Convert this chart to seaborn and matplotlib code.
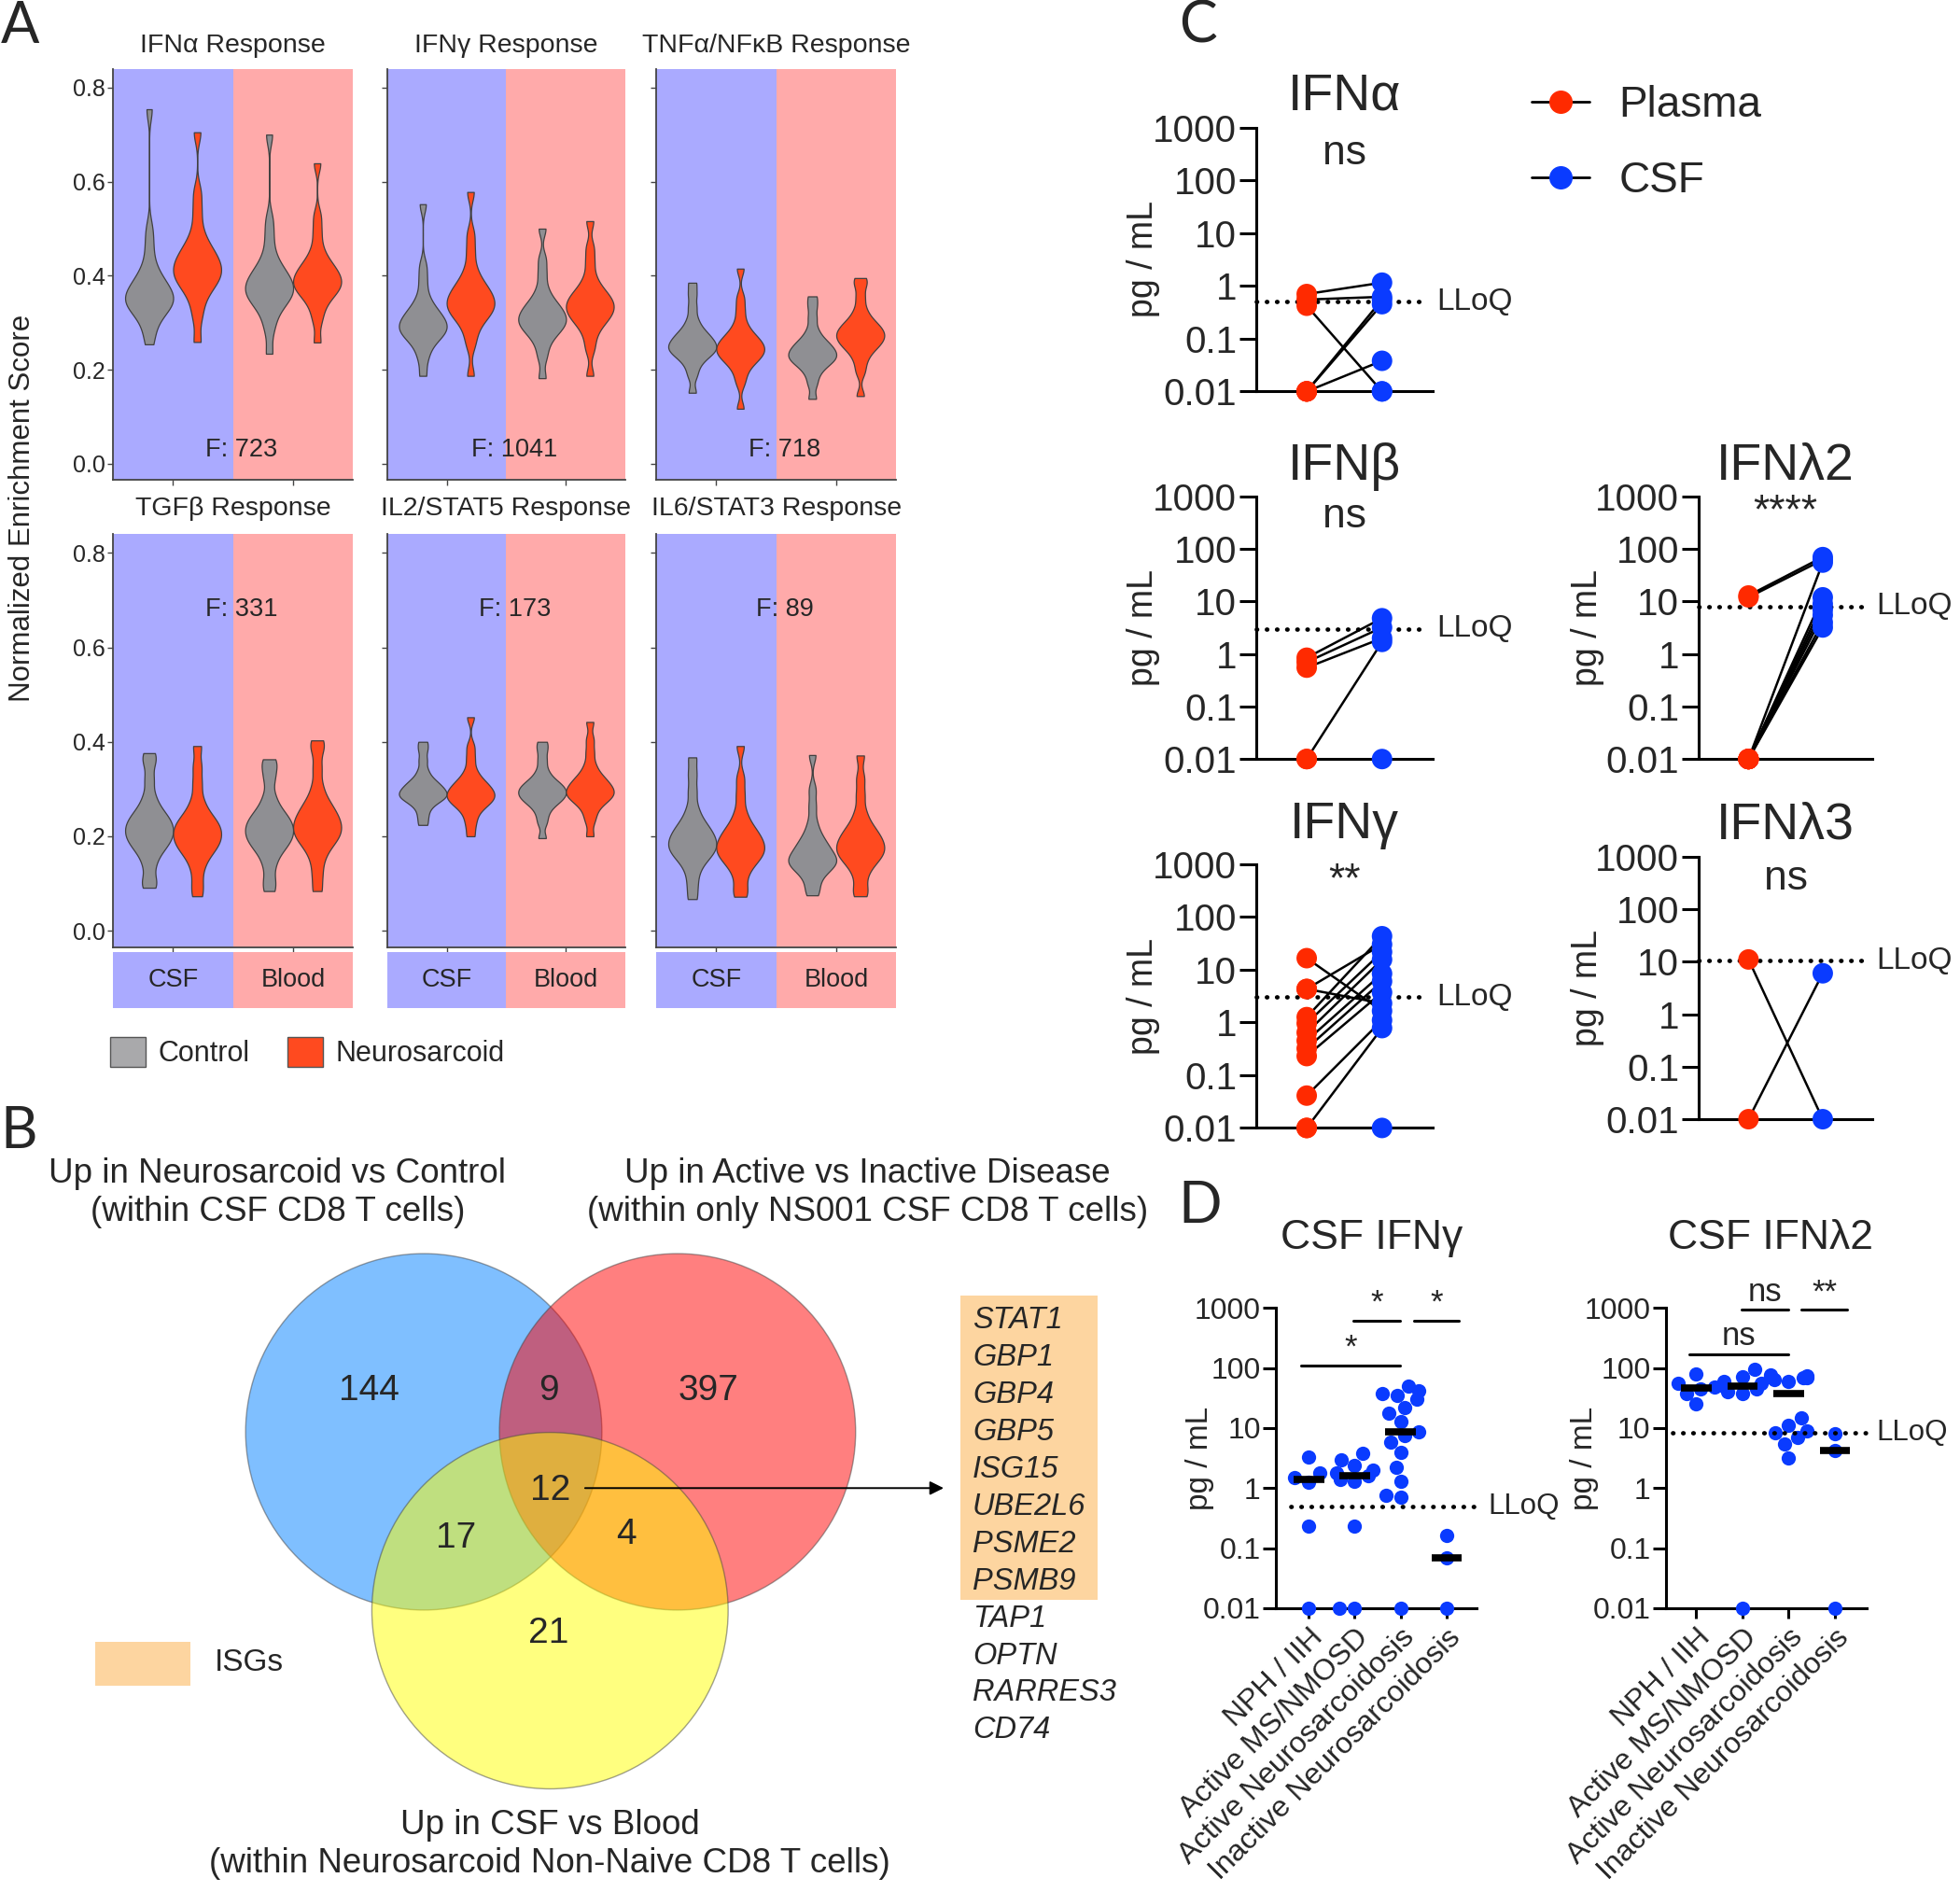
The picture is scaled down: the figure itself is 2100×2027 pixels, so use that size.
import numpy as np
import pandas as pd
import matplotlib
matplotlib.use("Agg")
import matplotlib.pyplot as plt
import seaborn as sns
from matplotlib.patches import Circle, Rectangle, Patch
from matplotlib.lines import Line2D
from matplotlib.ticker import NullLocator
from matplotlib.transforms import blended_transform_factory as blend

# ===================== DATA =====================
# ---- Panel A: enrichment score samples (read from violin shapes) ----
pathways = ["IFNα Response", "IFNγ Response", "TNFα/NFκB Response",
            "TGFβ Response", "IL2/STAT5 Response", "IL6/STAT3 Response"]
f_values = [723, 1041, 718, 331, 173, 89]
tissues = ["CSF", "Blood"]
groups = ["Control", "Neurosarcoid"]

ifna_csf_ctrl = [0.254, 0.282, 0.303, 0.318, 0.327, 0.333, 0.339, 0.344, 0.348, 0.353, 0.358, 0.365, 0.371, 0.378, 0.386, 0.395, 0.408, 0.429, 0.463, 0.499, 0.754]
ifna_csf_ns = [0.259, 0.311, 0.341, 0.362, 0.375, 0.384, 0.392, 0.399, 0.405, 0.412, 0.419, 0.426, 0.433, 0.441, 0.450, 0.461, 0.474, 0.499, 0.537, 0.577, 0.705]
ifna_blood_ctrl = [0.234, 0.284, 0.310, 0.329, 0.340, 0.348, 0.355, 0.361, 0.367, 0.372, 0.378, 0.385, 0.391, 0.398, 0.406, 0.415, 0.428, 0.449, 0.483, 0.519, 0.70]
ifna_blood_ns = [0.258, 0.304, 0.329, 0.346, 0.357, 0.365, 0.371, 0.377, 0.382, 0.387, 0.393, 0.399, 0.405, 0.412, 0.419, 0.428, 0.440, 0.461, 0.493, 0.527, 0.639]

ifng_csf_ctrl = [0.187, 0.222, 0.243, 0.258, 0.267, 0.273, 0.279, 0.284, 0.288, 0.293, 0.298, 0.303, 0.309, 0.315, 0.322, 0.330, 0.341, 0.360, 0.390, 0.421, 0.552]
ifng_csf_ns = [0.187, 0.253, 0.279, 0.298, 0.309, 0.317, 0.324, 0.330, 0.336, 0.341, 0.347, 0.354, 0.360, 0.367, 0.375, 0.384, 0.397, 0.418, 0.452, 0.488, 0.578]
ifng_blood_ctrl = [0.182, 0.226, 0.250, 0.267, 0.277, 0.284, 0.291, 0.297, 0.301, 0.306, 0.312, 0.317, 0.323, 0.329, 0.336, 0.344, 0.355, 0.374, 0.404, 0.435, 0.50]
ifng_blood_ns = [0.187, 0.243, 0.269, 0.288, 0.299, 0.307, 0.314, 0.320, 0.326, 0.331, 0.337, 0.342, 0.348, 0.354, 0.361, 0.369, 0.380, 0.399, 0.429, 0.460, 0.516]

tnf_csf_ctrl = [0.151, 0.187, 0.206, 0.219, 0.227, 0.233, 0.238, 0.242, 0.246, 0.250, 0.254, 0.259, 0.264, 0.269, 0.275, 0.282, 0.292, 0.308, 0.333, 0.360, 0.385]
tnf_csf_ns = [0.117, 0.172, 0.193, 0.208, 0.217, 0.223, 0.229, 0.234, 0.238, 0.243, 0.247, 0.252, 0.257, 0.262, 0.268, 0.275, 0.285, 0.301, 0.326, 0.353, 0.415]
tnf_blood_ctrl = [0.138, 0.169, 0.188, 0.201, 0.209, 0.215, 0.220, 0.224, 0.228, 0.232, 0.236, 0.241, 0.245, 0.250, 0.256, 0.262, 0.271, 0.286, 0.310, 0.335, 0.356]
tnf_blood_ns = [0.144, 0.195, 0.217, 0.233, 0.243, 0.250, 0.256, 0.261, 0.266, 0.271, 0.275, 0.280, 0.285, 0.290, 0.296, 0.303, 0.313, 0.329, 0.354, 0.381, 0.395]

tgfb_csf_ctrl = [0.091, 0.108, 0.138, 0.159, 0.172, 0.181, 0.189, 0.196, 0.202, 0.209, 0.215, 0.222, 0.228, 0.235, 0.243, 0.252, 0.265, 0.286, 0.320, 0.356, 0.376]
tgfb_csf_ns = [0.073, 0.100, 0.130, 0.151, 0.164, 0.173, 0.181, 0.188, 0.194, 0.201, 0.207, 0.215, 0.220, 0.227, 0.235, 0.244, 0.257, 0.278, 0.312, 0.348, 0.391]
tgfb_blood_ctrl = [0.084, 0.108, 0.138, 0.159, 0.172, 0.181, 0.189, 0.196, 0.202, 0.209, 0.215, 0.222, 0.228, 0.235, 0.243, 0.252, 0.265, 0.286, 0.320, 0.345, 0.363]
tgfb_blood_ns = [0.084, 0.118, 0.148, 0.169, 0.182, 0.191, 0.199, 0.206, 0.212, 0.219, 0.226, 0.233, 0.240, 0.248, 0.257, 0.268, 0.281, 0.306, 0.344, 0.384, 0.403]

il2_csf_ctrl = [0.224, 0.241, 0.256, 0.267, 0.273, 0.278, 0.282, 0.285, 0.288, 0.291, 0.295, 0.299, 0.303, 0.307, 0.312, 0.318, 0.326, 0.340, 0.361, 0.383, 0.40]
il2_csf_ns = [0.20, 0.224, 0.242, 0.256, 0.264, 0.270, 0.275, 0.279, 0.283, 0.287, 0.291, 0.296, 0.300, 0.305, 0.311, 0.317, 0.326, 0.341, 0.365, 0.390, 0.452]
il2_blood_ctrl = [0.196, 0.228, 0.246, 0.260, 0.268, 0.274, 0.279, 0.283, 0.287, 0.291, 0.295, 0.299, 0.303, 0.307, 0.312, 0.318, 0.326, 0.340, 0.361, 0.383, 0.40]
il2_blood_ns = [0.20, 0.232, 0.250, 0.264, 0.272, 0.278, 0.283, 0.287, 0.291, 0.295, 0.299, 0.304, 0.309, 0.314, 0.320, 0.327, 0.337, 0.353, 0.378, 0.405, 0.442]

il6_csf_ctrl = [0.067, 0.096, 0.122, 0.141, 0.152, 0.160, 0.167, 0.173, 0.179, 0.184, 0.190, 0.197, 0.203, 0.210, 0.218, 0.227, 0.240, 0.261, 0.295, 0.331, 0.367]
il6_csf_ns = [0.072, 0.088, 0.114, 0.133, 0.144, 0.152, 0.159, 0.165, 0.171, 0.176, 0.182, 0.189, 0.195, 0.202, 0.210, 0.219, 0.232, 0.253, 0.287, 0.323, 0.391]
il6_blood_ctrl = [0.075, 0.090, 0.109, 0.122, 0.130, 0.136, 0.141, 0.145, 0.149, 0.153, 0.158, 0.165, 0.171, 0.178, 0.186, 0.195, 0.208, 0.229, 0.263, 0.299, 0.372]
il6_blood_ns = [0.073, 0.088, 0.114, 0.133, 0.144, 0.152, 0.159, 0.165, 0.171, 0.176, 0.182, 0.189, 0.195, 0.202, 0.210, 0.219, 0.232, 0.253, 0.287, 0.323, 0.371]

# ---- Panel B: Venn ----
venn_titles = ["Up in Neurosarcoid vs Control\n(within CSF CD8 T cells)",
               "Up in Active vs Inactive Disease\n(within only NS001 CSF CD8 T cells)",
               "Up in CSF vs Blood\n(within Neurosarcoid Non-Naive CD8 T cells)"]
venn_counts = [144, 397, 21, 9, 17, 4, 12]   # A only, B only, C only, AB, AC, BC, ABC
isg_genes = ["STAT1", "GBP1", "GBP4", "GBP5", "ISG15", "UBE2L6", "PSME2", "PSMB9"]
other_genes = ["TAP1", "OPTN", "RARRES3", "CD74"]

# ---- Panel C: paired plasma / CSF (pg/mL) ----
c_titles = ["IFNα", "IFNβ", "IFNγ", "IFNλ2", "IFNλ3"]
c_signif = ["ns", "ns", "**", "****", "ns"]
c_lloq = [0.5, 3.0, 3.0, 8.0, 10.5]
ifna_plasma = [0.7, 0.55, 0.42, 0.01, 0.01, 0.01, 0.01]
ifna_csf = [1.15, 0.62, 0.01, 0.55, 0.45, 0.038, 0.01]
ifnb_plasma = [0.85, 0.7, 0.55, 0.01, 0.01]
ifnb_csf = [4.8, 3.2, 2.0, 1.7, 0.01]
ifng_plasma = [16.5, 4.3, 4.3, 1.26, 0.96, 0.64, 0.45, 0.32, 0.23, 0.041, 0.01, 0.01]
ifng_csf = [1.65, 30.0, 2.3, 43.0, 21.6, 15.5, 8.4, 6.0, 3.7, 1.1, 0.78, 0.01]
ifnl2_plasma = [13.0, 12.0, 0.01, 0.01, 0.01, 0.01, 0.01, 0.01, 0.01]
ifnl2_csf = [70.0, 62.0, 55.0, 12.0, 9.0, 7.0, 5.5, 4.0, 3.2]
ifnl3_plasma = [11.0, 0.01]
ifnl3_csf = [0.01, 6.0]

# ---- Panel D: CSF levels by group (pg/mL) ----
d_titles = ["CSF IFNγ", "CSF IFNλ2"]
d_groups = ["NPH / IIH", "Active MS/NMOSD", "Active Neurosarcoidosis", "Inactive Neurosarcoidosis"]
d_lloq = [0.5, 8.3]
d_ifng_nph = [3.3, 1.8, 1.5, 1.25, 0.23, 0.01]
d_ifng_ms = [3.8, 3.0, 2.4, 2.0, 1.8, 1.6, 1.4, 1.3, 0.23, 0.01, 0.01]
d_ifng_ans = [50, 42, 38, 35, 30, 22, 18, 13, 8.8, 7.5, 5.9, 3.9, 2.2, 1.3, 0.77, 0.7, 0.01]
d_ifng_ins = [0.16, 0.07, 0.01]
d_ifnl2_nph = [81, 55, 48, 45, 38, 25]
d_ifnl2_ms = [97, 72, 60, 55, 50, 45, 40, 37, 0.01]
d_ifnl2_ans = [78, 75, 72, 70, 68, 65, 60, 15, 11, 9, 8.4, 7, 5.4, 3.2]
d_ifnl2_ins = [8.0, 4.2, 0.01]
d_sig_ifng = [(-0.16, 1.99, 110, "*"), (0.98, 1.99, 620, "*"), (2.29, 3.27, 620, "*")]
d_sig_ifnl2 = [(-0.15, 1.99, 172, "ns"), (0.99, 1.99, 930, "ns"), (2.27, 3.27, 930, "**")]

# ===================== STYLE =====================
sns.set_theme(style="white")
plt.rcParams["font.family"] = ["Liberation Sans", "DejaVu Sans"]
plt.rcParams["axes.unicode_minus"] = False

csf_bg = "#AAAAFF"
blood_bg = "#FFAAAA"
vio_gray = "#8F8F93"
vio_red = "#FF4A1F"
c_red = "#FF2A00"
c_blue = "#0A3BFF"

DW, DH = 1568.0, 1513.0   # layout grid of the reference


def box(x0, x1, y0, y1):
    return [x0 / DW, 1 - y1 / DH, (x1 - x0) / DW, (y1 - y0) / DH]


def fxy(x, y):
    return (x / DW, 1 - y / DH)


fig = plt.figure(figsize=(21, 20.27), dpi=100)

# panel letters
for lab, (x, y) in zip("ABCD", [(16, 21), (15, 905), (958, 21), (960, 965)]):
    fig.text(*fxy(x, y), lab, fontsize=44, ha="center", va="center",
             family=["Lato", "DejaVu Sans"])

# ===================== PANEL A =====================
vio_sets = [
    [ifna_csf_ctrl, ifna_csf_ns, ifna_blood_ctrl, ifna_blood_ns],
    [ifng_csf_ctrl, ifng_csf_ns, ifng_blood_ctrl, ifng_blood_ns],
    [tnf_csf_ctrl, tnf_csf_ns, tnf_blood_ctrl, tnf_blood_ns],
    [tgfb_csf_ctrl, tgfb_csf_ns, tgfb_blood_ctrl, tgfb_blood_ns],
    [il2_csf_ctrl, il2_csf_ns, il2_blood_ctrl, il2_blood_ns],
    [il6_csf_ctrl, il6_csf_ns, il6_blood_ctrl, il6_blood_ns],
]
combos = [("CSF", "Control"), ("CSF", "Neurosarcoid"), ("Blood", "Control"), ("Blood", "Neurosarcoid")]
a_cols = [(90.5, 282.5), (309.6, 500.5), (525.0, 717.0)]
a_rows = [(55.0, 384.0), (427.0, 757.5)]

for k, name in enumerate(pathways):
    r, c = divmod(k, 3)
    ax = fig.add_axes(box(a_cols[c][0], a_cols[c][1], a_rows[r][0], a_rows[r][1]))
    recs = []
    for (t, g), vals in zip(combos, vio_sets[k]):
        recs += [{"tissue": t, "group": g, "score": v} for v in vals]
    df = pd.DataFrame(recs)
    ax.axvspan(-0.5, 0.5, color=csf_bg, lw=0, zorder=0)
    ax.axvspan(0.5, 1.5, color=blood_bg, lw=0, zorder=0)
    sns.violinplot(data=df, x="tissue", y="score", hue="group", order=tissues,
                   hue_order=groups, palette={"Control": vio_gray, "Neurosarcoid": vio_red},
                   inner=None, cut=0, density_norm="width", bw_adjust=0.42,
                   linewidth=0.9, linecolor="#404040", saturation=1, legend=False, ax=ax)
    ax.set_xlim(-0.5, 1.5)
    ax.set_ylim(-0.035, 0.84)
    ax.set_yticks([0, 0.2, 0.4, 0.6, 0.8])
    ax.set_yticklabels(["0.0", "0.2", "0.4", "0.6", "0.8"] if c == 0 else [])
    ax.set_xticks([0, 1])
    ax.set_xticklabels([])
    ax.set_xlabel("")
    ax.set_ylabel("")
    ax.tick_params(axis="both", length=4, width=1, color="#444444", left=True,
                   bottom=True, labelsize=18, pad=2)
    for sp in ["top", "right"]:
        ax.spines[sp].set_visible(False)
    for sp in ["left", "bottom"]:
        ax.spines[sp].set_color("#444444")
        ax.spines[sp].set_linewidth(1.3)
    ax.text(0.5, 1.055 if r == 0 else 1.061, name, transform=ax.transAxes,
            ha="center", va="center", fontsize=20.5)
    ax.text(0.57, 0.03 if r == 0 else 0.68, f"F: {f_values[k]}", ha="center",
            va="center", fontsize=19.5)

for c in range(3):
    sax = fig.add_axes(box(a_cols[c][0], a_cols[c][1], 761, 806.5))
    sax.set_xlim(-0.5, 1.5)
    sax.set_ylim(0, 1)
    sax.axvspan(-0.5, 0.5, color=csf_bg, lw=0)
    sax.axvspan(0.5, 1.5, color=blood_bg, lw=0)
    for i, t in enumerate(tissues):
        sax.text(i, 0.5, t, ha="center", va="center", fontsize=19.5)
    sax.axis("off")

fig.text(*fxy(18, 406), "Normalized Enrichment Score", rotation=90, fontsize=22.5,
         ha="center", va="center")
a_handles = [Patch(facecolor="#A9A9AB", edgecolor="#555555", lw=1),
             Patch(facecolor=vio_red, edgecolor="#555555", lw=1)]
fig.legend(a_handles, groups, loc="upper left", bbox_to_anchor=fxy(88, 829),
           frameon=False, fontsize=22, ncol=2, handlelength=1.25, handleheight=1.25,
           handletextpad=0.45, columnspacing=1.3, borderpad=0, borderaxespad=0)

# ===================== PANEL B =====================
axv = fig.add_axes(box(0, 940, 880, 1513))
axv.set_xlim(0, 940)
axv.set_ylim(1513, 880)
axv.axis("off")
for (cx, cy), col in zip([(339, 1145), (542, 1145), (440, 1288)],
                         ["#0080FF", "#FF0000", "#FFFF00"]):
    axv.add_patch(Circle((cx, cy), 142.5, facecolor=col, alpha=0.5,
                         edgecolor="#444444", lw=1.0))
for (x, y), n in zip([(295, 1112), (567, 1112), (439, 1306), (439, 1112),
                      (365, 1230), (501, 1227), (440, 1192)], venn_counts):
    axv.text(x, y, str(n), ha="center", va="center", fontsize=28)
axv.text(222, 954, venn_titles[0], ha="center", va="center", fontsize=26.5, linespacing=1.2)
axv.text(694, 954, venn_titles[1], ha="center", va="center", fontsize=26.5, linespacing=1.2)
axv.text(440, 1475, venn_titles[2], ha="center", va="center", fontsize=26.5, linespacing=1.2)
axv.annotate("", xy=(757, 1190), xytext=(466, 1190),
             arrowprops=dict(arrowstyle="-|>", color="black", lw=1.4, mutation_scale=22))
axv.add_patch(Rectangle((768, 1036), 110, 243, facecolor="#FDD5A0", edgecolor="none"))
for i, g in enumerate(isg_genes + other_genes):
    axv.text(778, 1056 + 29.8 * i, g, ha="left", va="center", fontsize=23.5, style="italic")
axv.add_patch(Rectangle((76, 1313), 76, 35, facecolor="#FDD5A0", edgecolor="none"))
axv.text(172, 1330, "ISGs", ha="left", va="center", fontsize=24)

# ===================== PANEL C =====================
c_pairs = [(ifna_plasma, ifna_csf), (ifnb_plasma, ifnb_csf), (ifng_plasma, ifng_csf),
           (ifnl2_plasma, ifnl2_csf), (ifnl3_plasma, ifnl3_csf)]
c_boxes = [(1005, 1146, 102, 313), (1005, 1146, 397, 607), (1005, 1146, 691, 902),
           (1359, 1498, 397, 607), (1359, 1498, 685, 895)]
c_title_y = [1.118, 1.114, 1.147, 1.114, 1.119]
c_sig_y = [0.90, 0.924, 0.935, 0.94, 0.914]
log_ticks = [0.01, 0.1, 1, 10, 100, 1000]
log_labels = ["0.01", "0.1", "1", "10", "100", "1000"]

for k in range(5):
    ax = fig.add_axes(box(*c_boxes[k]))
    pl, cs = c_pairs[k]
    n = len(pl)
    df = pd.DataFrame({"pair": list(range(n)) * 2,
                       "sample": ["Plasma"] * n + ["CSF"] * n,
                       "pos": [0] * n + [1] * n,
                       "value": list(pl) + list(cs)})
    ax.set_yscale("log")
    sns.lineplot(data=df, x="pos", y="value", units="pair", estimator=None,
                 color="black", linewidth=1.8, ax=ax, legend=False)
    sns.scatterplot(data=df, x="pos", y="value", hue="sample",
                    palette={"Plasma": c_red, "CSF": c_blue}, s=250, linewidth=0,
                    ax=ax, legend=False, zorder=4, clip_on=False)
    for ln in ax.lines:
        ln.set_clip_on(False)
    ax.plot([-0.67, 1.6], [c_lloq[k]] * 2, color="black", lw=3.4,
            linestyle=(0, (0.1, 2.2)), dash_capstyle="round", clip_on=False, zorder=3)
    ax.text(1.72, c_lloq[k], "LLoQ", ha="left", va="center", fontsize=24)
    ax.set_ylim(0.01, 1000)
    ax.set_xlim(-0.67, 1.67)
    ax.set_yticks(log_ticks)
    ax.set_yticklabels(log_labels)
    ax.yaxis.set_minor_locator(NullLocator())
    ax.set_xticks([])
    ax.set_xlabel("")
    ax.set_ylabel("")
    ax.tick_params(axis="y", left=True, length=13, width=2.2, labelsize=29, pad=2, color="black")
    for sp in ["top", "right"]:
        ax.spines[sp].set_visible(False)
    for sp in ["left", "bottom"]:
        ax.spines[sp].set_color("black")
        ax.spines[sp].set_linewidth(2.2)
    tr = blend(ax.transData, ax.transAxes)
    ax.text(0.5, c_title_y[k], c_titles[k], transform=tr, ha="center", va="center", fontsize=40)
    ax.text(0.5, c_sig_y[k], c_signif[k], transform=tr, ha="center", va="center", fontsize=32)
    ax.text(-0.64, 0.5, "pg / mL", transform=ax.transAxes, rotation=90, ha="center",
            va="center", fontsize=27)

c_handles = [Line2D([0], [0], color="black", lw=2, marker="o", markersize=17,
                    markerfacecolor=c_red, markeredgecolor=c_red),
             Line2D([0], [0], color="black", lw=2, marker="o", markersize=17,
                    markerfacecolor=c_blue, markeredgecolor=c_blue)]
fig.legend(c_handles, ["Plasma", "CSF"], loc="upper left", bbox_to_anchor=fxy(1225, 68),
           frameon=False, fontsize=33, handlelength=1.35, handletextpad=0.7,
           labelspacing=0.8, borderpad=0, borderaxespad=0)

# ===================== PANEL D =====================
d_sets = [[d_ifng_nph, d_ifng_ms, d_ifng_ans, d_ifng_ins],
          [d_ifnl2_nph, d_ifnl2_ms, d_ifnl2_ans, d_ifnl2_ins]]
d_sigs = [d_sig_ifng, d_sig_ifnl2]
d_boxes = [(1021, 1181, 1046, 1286), (1333, 1493, 1046, 1286)]
d_xlims = [(-0.71, 3.65), (-0.65, 3.68)]
d_title_x = [1.36, 1.6]
d_lloq_x = [(-0.4, 3.74), (-0.51, 3.76)]

for k in range(2):
    ax = fig.add_axes(box(*d_boxes[k]))
    vals = d_sets[k]
    df = pd.DataFrame({"group": sum([[g] * len(v) for g, v in zip(d_groups, vals)], []),
                       "value": sum([list(v) for v in vals], [])})
    ax.set_yscale("log")
    sns.swarmplot(data=df, x="group", y="value", order=d_groups, color=c_blue,
                  size=11, linewidth=0, ax=ax, warn_thresh=1)
    for coll in ax.collections:
        coll.set_clip_on(False)
    for i, v in enumerate(vals):
        ax.hlines(np.median(v), i - 0.33, i + 0.33, color="black", lw=5.5, zorder=5)
    ax.plot(list(d_lloq_x[k]), [d_lloq[k]] * 2, color="black", lw=3.4,
            linestyle=(0, (0.1, 2.2)), dash_capstyle="round", clip_on=False, zorder=3)
    ax.text(3.9, d_lloq[k], "LLoQ", ha="left", va="center", fontsize=22.5)
    for x0, x1, y, lab in d_sigs[k]:
        ax.plot([x0, x1], [y, y], color="black", lw=2.2, clip_on=False)
        ax.text((x0 + x1) / 2, y * 1.95, lab, ha="center", va="center", fontsize=25)
    ax.set_ylim(0.01, 1000)
    ax.set_xlim(*d_xlims[k])
    ax.set_yticks(log_ticks)
    ax.set_yticklabels(log_labels)
    ax.yaxis.set_minor_locator(NullLocator())
    ax.set_xticks(range(4))
    ax.set_xticklabels(d_groups, rotation=45, ha="right", rotation_mode="anchor", fontsize=23)
    ax.set_xlabel("")
    ax.set_ylabel("")
    ax.tick_params(axis="y", left=True, length=10, width=2.2, labelsize=23, pad=2, color="black")
    ax.tick_params(axis="x", bottom=True, length=8, width=2.2, pad=4, color="black")
    for sp in ["top", "right"]:
        ax.spines[sp].set_visible(False)
    for sp in ["left", "bottom"]:
        ax.spines[sp].set_color("black")
        ax.spines[sp].set_linewidth(2.2)
    tr = blend(ax.transData, ax.transAxes)
    ax.text(d_title_x[k], 1.233, d_titles[k], transform=tr, ha="center", va="center", fontsize=32)
    ax.text(-0.38 if k == 0 else -0.41, 0.5, "pg / mL", transform=ax.transAxes, rotation=90,
            ha="center", va="center", fontsize=24)

fig.savefig("out.png", dpi=100)
